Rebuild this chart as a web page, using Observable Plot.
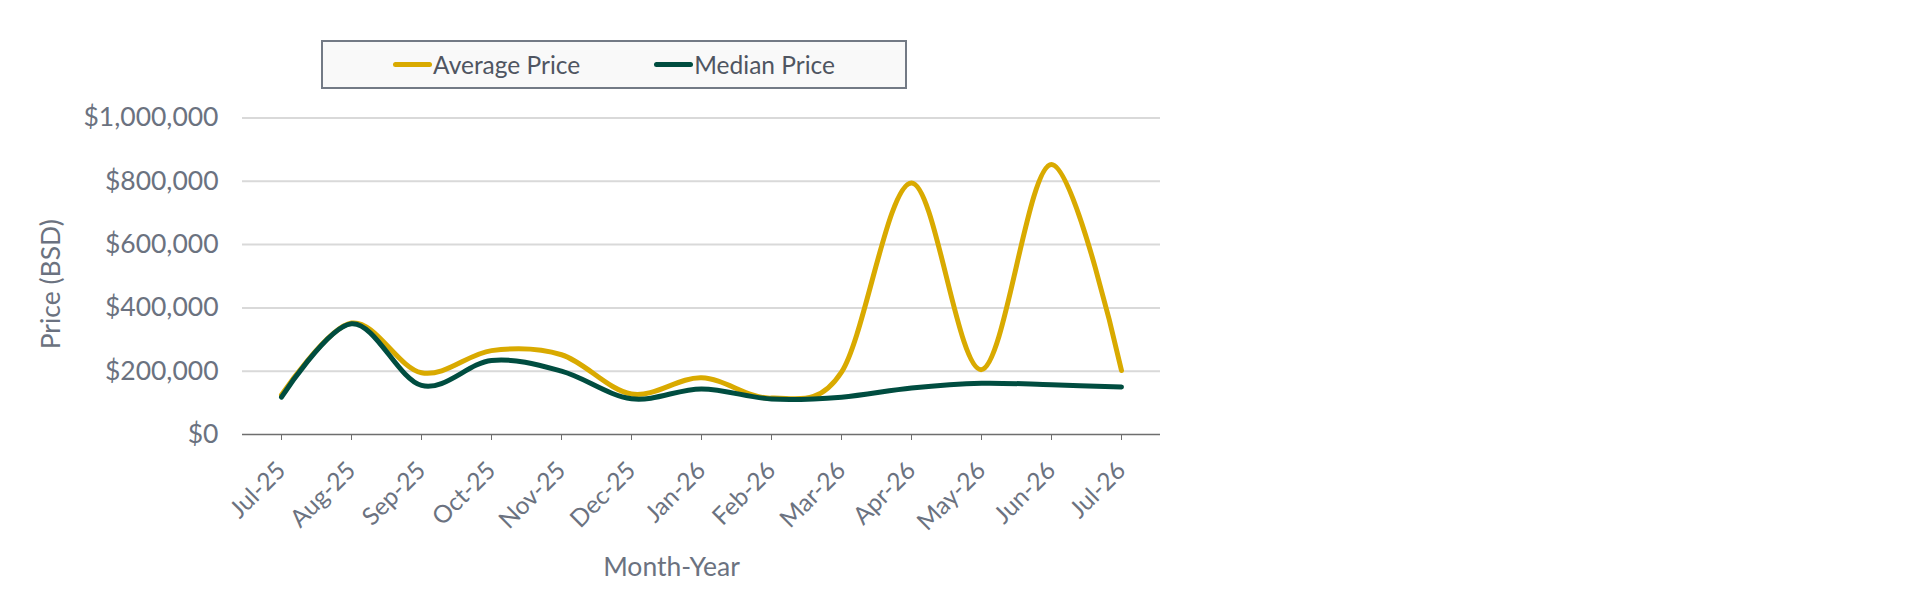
<!DOCTYPE html>
<html><head><meta charset="utf-8">
<script src="https://cdn.jsdelivr.net/npm/d3@7"></script>
<script src="https://cdn.jsdelivr.net/npm/@observablehq/plot@0.6"></script>
<style>
html,body{margin:0;padding:0;background:#fff;}
#wrap{position:relative;width:1920px;height:605px;font-family:Lato, "Open Sans", sans-serif;}
#legend{position:absolute;left:321px;top:40px;width:582px;height:45px;border:2px solid #737a85;background:#f9f9f9;display:flex;align-items:center;justify-content:center;gap:74px;}
.item{display:flex;align-items:center;font-size:24.5px;color:#4f5561;}
.sw{width:39px;height:5px;border-radius:3px;margin-right:1px;}
</style></head><body>
<div id="wrap"><div id="chart"></div><div id="legend"></div></div>
<script>
const months = ["Jul-25","Aug-25","Sep-25","Oct-25","Nov-25","Dec-25","Jan-26","Feb-26","Mar-26","Apr-26","May-26","Jun-26","Jul-26"];
const averagePrice = [125000, 352000, 195000, 265000, 252000, 128000, 179000, 115000, 197000, 795000, 205000, 853000, 202000];
const medianPrice  = [118000, 350000, 155000, 234000, 200000, 113000, 144000, 112000, 118000, 147000, 162000, 157000, 150000];
const seriesNames = ["Average Price", "Median Price"];
const seriesColors = ["#d9aa00", "#004d40"];
const yTicks = [0, 200000, 400000, 600000, 800000, 1000000];

const rows = [];
[averagePrice, medianPrice].forEach((vals, s) => {
  vals.forEach((v, i) => rows.push({series: seriesNames[s], month: months[i], value: v}));
});

const plot = Plot.plot({
  width: 1920, height: 605,
  marginTop: 117.5, marginBottom: 171, marginLeft: 242, marginRight: 760,
  style: {fontFamily: "Lato, 'Open Sans', sans-serif", fontSize: "22px", color: "#6b7280", background: "transparent"},
  x: {type: "point", domain: months, padding: 0.5, label: null},
  y: {domain: [0, 1000000], label: null},
  color: {domain: seriesNames, range: seriesColors},
  marks: [
    Plot.ruleY(yTicks.slice(1), {stroke: "#d9d9d9", strokeWidth: 2}),
    Plot.ruleY([0], {stroke: "#6e6e6e", strokeWidth: 1.5}),
    Plot.axisX({tickSize: 6, tickRotate: -45, tickPadding: 26, stroke: "#6e6e6e", fill: "#6b7280", fontSize: 24.5, label: null}),
    Plot.axisY({ticks: yTicks, tickSize: 0, tickPadding: 24, tickFormat: d3.format("$,"), fill: "#6b7280", fontSize: 26.5, label: null}),
    Plot.text(["Price (BSD)"], {frameAnchor: "left", rotate: -90, textAnchor: "middle", lineAnchor: "middle", dx: -191, dy: 8, fill: "#6b7280", fontSize: 26.5}),
    Plot.text(["Month-Year"], {frameAnchor: "bottom", textAnchor: "middle", lineAnchor: "middle", dx: -30, dy: 133, fill: "#6b7280", fontSize: 26.5}),
    Plot.line(rows, {x: "month", y: "value", stroke: "series", z: "series", strokeWidth: 5, curve: "cardinal", strokeLinecap: "round", strokeLinejoin: "round"})
  ]
});
document.getElementById("chart").appendChild(plot);

const legend = document.getElementById("legend");
seriesNames.forEach((name, i) => {
  const it = document.createElement("div");
  it.className = "item";
  const sw = document.createElement("span");
  sw.className = "sw";
  sw.style.background = seriesColors[i];
  const t = document.createElement("span");
  t.textContent = name;
  it.appendChild(sw); it.appendChild(t);
  legend.appendChild(it);
});
</script>
</body></html>
